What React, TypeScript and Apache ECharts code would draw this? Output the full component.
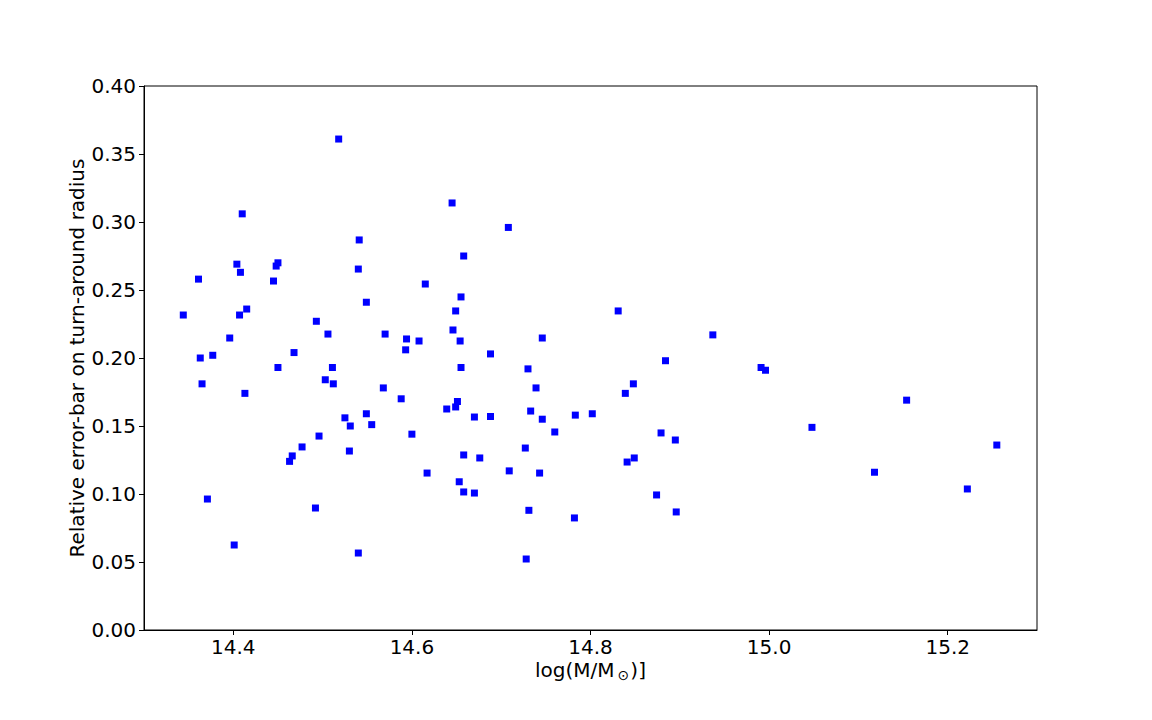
import React, { useEffect, useRef } from "react";
import * as echarts from "echarts";

const logMass: number[] = [
  14.344, 14.361, 14.363, 14.365, 14.371, 14.377, 14.396, 14.401, 14.404, 14.408,
  14.407, 14.410, 14.415, 14.413, 14.445, 14.448, 14.450, 14.450, 14.463, 14.466,
  14.468, 14.477, 14.492, 14.493, 14.496, 14.503, 14.506, 14.511, 14.512, 14.518,
  14.525, 14.530, 14.531, 14.540, 14.540, 14.541, 14.549, 14.549, 14.555, 14.568,
  14.570, 14.588, 14.593, 14.594, 14.600, 14.608, 14.615, 14.617, 14.639, 14.645,
  14.646, 14.649, 14.649, 14.651, 14.653, 14.654, 14.655, 14.655, 14.658, 14.658,
  14.658, 14.670, 14.670, 14.676, 14.688, 14.688, 14.708, 14.709, 14.727, 14.728,
  14.730, 14.731, 14.733, 14.739, 14.743, 14.746, 14.746, 14.760, 14.782, 14.783,
  14.802, 14.831, 14.839, 14.841, 14.848, 14.849, 14.874, 14.879, 14.884, 14.895,
  14.896, 14.937, 14.991, 14.996, 15.048, 15.118, 15.154, 15.222, 15.255,
];

const relError: number[] = [
  0.2316, 0.258, 0.200, 0.181, 0.0963, 0.202, 0.2147, 0.0625, 0.269, 0.263,
  0.2316, 0.306, 0.236, 0.174, 0.2566, 0.2676, 0.270, 0.193, 0.124, 0.128,
  0.204, 0.1346, 0.0897, 0.227, 0.1426, 0.184, 0.2176, 0.193, 0.181, 0.361,
  0.156, 0.1316, 0.150, 0.0566, 0.2654, 0.2868, 0.241, 0.159, 0.151, 0.178,
  0.2176, 0.170, 0.206, 0.214, 0.144, 0.2125, 0.2544, 0.1154, 0.1625, 0.314,
  0.2206, 0.2346, 0.164, 0.168, 0.109, 0.2125, 0.2449, 0.193, 0.275, 0.1287,
  0.1015, 0.1566, 0.1007, 0.1265, 0.203, 0.157, 0.296, 0.117, 0.1338, 0.0522,
  0.192, 0.088, 0.161, 0.178, 0.1154, 0.155, 0.2147, 0.1456, 0.0824, 0.158,
  0.159, 0.2346, 0.174, 0.1235, 0.181, 0.1265, 0.0993, 0.1449, 0.198, 0.1397,
  0.0868, 0.217, 0.193, 0.191, 0.149, 0.116, 0.169, 0.1037, 0.136,
];

const xRange = { min: 14.3, max: 15.3 };
const xTickValues: number[] = [14.4, 14.6, 14.8, 15.0, 15.2];
const yTicks = { min: 0, max: 0.4, interval: 0.05 };

const FONT = "DejaVu Sans";
const FS = 20;

export default function App() {
  const ref = useRef<HTMLDivElement>(null);
  useEffect(() => {
    document.body.style.margin = "0";
    if (!ref.current) return;
    const chart = echarts.init(ref.current, undefined, { renderer: "svg" });
    const points = logMass.map((m, i) => [m, relError[i]]);
    chart.setOption({
      animation: false,
      backgroundColor: "#ffffff",
      grid: { left: 144, top: 86, right: 115, bottom: 90, show: true, borderColor: "#000", borderWidth: 1 },
      xAxis: {
        type: "value",
        min: xRange.min,
        max: xRange.max,
        name: "{a|log(M/M}{s|⊙}{a|)]}",
        nameLocation: "middle",
        nameGap: 28,
        nameMoveOverlap: false,
        nameTextStyle: {
          rich: {
            a: { fontFamily: FONT, fontSize: FS, color: "#000" },
            s: { fontFamily: FONT, fontSize: 14, color: "#000", padding: [10, 1, 0, 3] },
          },
        },
        axisLine: { show: true, onZero: false, lineStyle: { color: "#000", width: 1 } },
        axisTick: { show: true, inside: false, length: 5, lineStyle: { color: "#000" }, customValues: xTickValues },
        axisLabel: {
          fontFamily: FONT,
          fontSize: FS,
          color: "#000",
          margin: 7,
          customValues: xTickValues,
          formatter: (v: number) => v.toFixed(1),
        },
        splitLine: { show: false },
      },
      yAxis: {
        type: "value",
        min: yTicks.min,
        max: yTicks.max,
        interval: yTicks.interval,
        name: "Relative error-bar on turn-around radius",
        nameLocation: "middle",
        nameGap: 57,
        nameMoveOverlap: false,
        nameTextStyle: { fontFamily: FONT, fontSize: FS, color: "#000" },
        axisLine: { show: true, lineStyle: { color: "#000", width: 1 } },
        axisTick: { show: true, inside: false, length: 5, lineStyle: { color: "#000" } },
        axisLabel: {
          fontFamily: FONT,
          fontSize: FS,
          color: "#000",
          margin: 8,
          formatter: (v: number) => v.toFixed(2),
        },
        splitLine: { show: false },
      },
      series: [
        {
          type: "scatter",
          symbol: "rect",
          symbolSize: 7,
          itemStyle: { color: "#0000ff", opacity: 1 },
          data: points,
        },
      ],
    });
    return () => chart.dispose();
  }, []);
  return <div ref={ref} style={{ width: 1152, height: 720 }} />;
}
